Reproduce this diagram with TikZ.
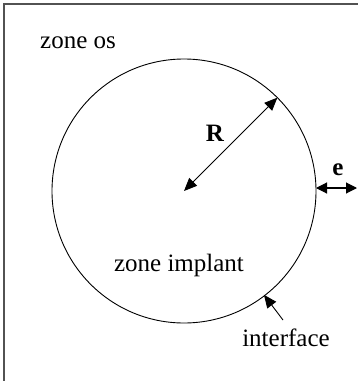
\documentclass[tikz,border=0pt]{standalone}
\usepackage{fontspec}
\setmainfont{Liberation Serif}
\usetikzlibrary{arrows.meta,calc}
\begin{document}
\begin{tikzpicture}[x=1pt,y=-1pt,
  lbl/.style={inner sep=0pt,font=\fontsize{25}{30}\selectfont},
  blbl/.style={inner sep=0pt,font=\fontsize{25}{30}\selectfont\bfseries},
  arr/.style={line width=0.9pt,-{Triangle[length=13pt,width=11pt]}},
  darr/.style={line width=1.1pt,{Triangle[length=11pt,width=11pt]}-{Triangle[length=11pt,width=11pt]}}]
\useasboundingbox (0,0) rectangle (357,381);
\draw[line width=1.7pt,draw=black!68] (4,382) -- (4,4) -- (358,4);
\coordinate (c) at (184,191);
\draw[line width=0.9pt] (c) circle (132);
\coordinate (rtip) at ($(c)+(-45:132)$);
\coordinate (etip) at (357,188);
\coordinate (eout) at (316,188);
\coordinate (ftail) at (283,320);
\coordinate (fhead) at ($(c)+(52.4:131)$);
\draw[line width=0.9pt,{Triangle[length=13pt,width=11pt]}-{Triangle[length=13pt,width=11pt]}] (c) -- (rtip);
\draw[darr] (eout) -- (etip);
\draw[arr] (ftail) -- (fhead);
\node[blbl] (R) at (215,133) {R};
\node[blbl] (e) at (338,170) {e};
\node[lbl] (os) at (78,43) {zone os};
\node[lbl] (impl) at (179,265) {zone implant};
\node[lbl] (intf) at (286,338) {interface};
\end{tikzpicture}
\end{document}
